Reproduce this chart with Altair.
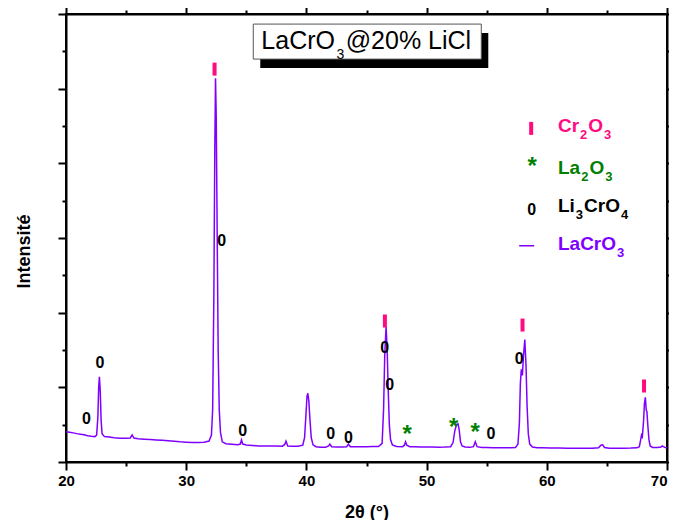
import altair as alt
import pandas as pd

# ---------------- data ----------------
two_theta = [20.0, 20.3, 20.6, 20.9, 21.2, 21.5, 21.8, 22.1, 22.4, 22.55, 22.65, 22.72, 22.78, 22.85, 22.92,
             23.0, 23.2, 23.6, 24.0, 24.5, 25.0, 25.35, 25.5, 25.65, 26.0, 26.5, 27.0, 27.5, 28.0, 28.5,
             29.0, 29.5, 30.0, 30.5, 31.0, 31.5, 31.9, 32.1, 32.2, 32.3, 32.38, 32.44, 32.5, 32.58, 32.66,
             32.75, 32.85, 33.0, 33.3, 33.8, 34.3, 34.5, 34.6, 34.7, 35.0, 35.5, 36.0, 36.5, 37.0, 37.5,
             38.0, 38.2, 38.3, 38.45, 38.8, 39.3, 39.7, 39.85, 39.95, 40.05, 40.12, 40.2, 40.3, 40.4, 40.55,
             40.8, 41.2, 41.6, 41.85, 41.95, 42.1, 42.5, 43.0, 43.35, 43.5, 43.65, 44.0, 44.5, 45.0, 45.5,
             46.0, 46.3, 46.42, 46.52, 46.63, 46.72, 46.8, 46.9, 47.0, 47.15, 47.5, 48.0, 48.15, 48.25, 48.35,
             48.6, 49.0, 49.5, 50.0, 50.5, 51.0, 51.5, 52.0, 52.2, 52.35, 52.5, 52.62, 52.72, 52.82, 52.95,
             53.2, 53.6, 53.9, 54.05, 54.2, 54.6, 55.0, 55.5, 56.0, 56.5, 57.0, 57.4, 57.6, 57.72, 57.8,
             57.88, 57.97, 58.06, 58.17, 58.27, 58.36, 58.46, 58.58, 58.8, 59.2, 59.7, 60.3, 61.0, 61.7, 62.4,
             63.1, 63.8, 64.3, 64.5, 64.65, 64.8, 65.2, 65.8, 66.4, 67.0, 67.5, 67.7, 67.8, 67.88, 67.95,
             68.05, 68.12, 68.2, 68.27, 68.33, 68.4, 68.5, 68.6, 68.8, 69.2, 69.5, 69.6, 69.7, 69.85, 70.0]
intensity = [405, 398, 390, 380, 372, 365, 352, 345, 340, 360, 600, 1000, 1140, 950, 560,
             380, 340, 335, 325, 318, 318, 322, 362, 320, 310, 305, 300, 296, 292, 285,
             278, 270, 265, 260, 262, 265, 280, 360, 700, 2200, 4200, 5140, 4600, 3000, 1500,
             700, 400, 270, 245, 238, 232, 240, 295, 240, 228, 222, 214, 214, 215, 213,
             212, 235, 280, 215, 210, 210, 225, 330, 600, 880, 920, 820, 560, 330, 230,
             205, 196, 198, 215, 240, 205, 200, 200, 205, 240, 205, 203, 205, 205, 206,
             208, 250, 700, 1450, 1810, 1500, 1000, 500, 300, 230, 208, 205, 225, 272, 225,
             205, 203, 202, 200, 200, 199, 200, 205, 260, 420, 505, 510, 420, 270, 215,
             200, 196, 205, 272, 205, 195, 193, 192, 192, 191, 190, 195, 240, 520, 1050,
             1240, 1160, 1420, 1640, 1300, 750, 380, 240, 200, 192, 190, 188, 186, 185, 184,
             184, 183, 190, 225, 230, 195, 185, 183, 184, 186, 190, 205, 290, 361, 340,
             550, 780, 866, 700, 673, 500, 300, 215, 195, 195, 200, 215, 205, 195, 190]

# phase markers (position in 2θ, intensity level of the marker)
li3cro4_x = [21.71, 22.82, 32.96, 34.70, 42.03, 43.49, 46.51, 46.92, 55.35, 57.70]
li3cro4_y = [572, 1321, 2963, 419, 375, 317, 1522, 1031, 371, 1379]
cr2o3_x = [32.36, 46.53, 57.98, 68.09]
cr2o3_y = [5262, 1888, 1834, 1018]
la2o3_x = [48.38, 52.26, 54.05]
la2o3_y = [428, 526, 451]

# legend entries: (text segments, subscripts at odd positions)
legend_segments = [["Cr", "2", "O", "3"], ["La", "2", "O", "3"], ["Li", "3", "CrO", "4"], ["LaCrO", "3"]]
legend_colors = ["#ff0a7f", "#008000", "black", "#8000ff"]
legend_text_x = 60.93
legend_text_y = [4499, 3937, 3428, 2919]
legend_cr_mark = (58.70, 4468)
legend_star_mark = (58.78, 4021)
legend_zero_mark = (58.75, 3374)
legend_line = (57.70, 58.95, 2896)

title_segments = ["LaCrO", "3", "@20% LiCl"]
title_start = (36.25, 5644)
title_box = (35.58, 54.55, 5396, 5865)

x_major = [20, 30, 40, 50, 60, 70]
x_minor = [25, 35, 45, 55, 65]
y_major = [0, 1000, 2000, 3000, 4000, 5000, 6000]
y_minor = [500, 1500, 2500, 3500, 4500, 5500]

# ---------------- styles ----------------
PURPLE = "#8000ff"
PINK = "#ff0a7f"
GREEN = "#008000"
FONT = "Liberation Sans"
W, H = 601, 448
PX_PER_DEG = W / 50.0

# Arial / Liberation Sans advance widths (em)
BOLD_W = {"L": .611, "i": .278, "C": .722, "r": .389, "O": .778, "a": .556}
REG_W = {"L": .556, "a": .556, "C": .722, "r": .333, "O": .778, "@": 1.015, "%": .889, " ": .278,
         "i": .222, "l": .222}


def text_width(s, size, bold):
    table = BOLD_W if bold else REG_W
    return sum(table.get(ch, .556) for ch in s) * size


def layout_segments(segs, x0, y0, main_size, sub_size, bold, color, gap=1.0):
    """Return rows for main-size and subscript-size pieces, alternating main/sub."""
    main_rows, sub_rows = [], []
    off = 0.0
    for k, s in enumerate(segs):
        is_sub = (k % 2 == 1)
        size = sub_size if is_sub else main_size
        row = {"t": x0 + off / PX_PER_DEG, "i": y0, "s": s, "c": color}
        (sub_rows if is_sub else main_rows).append(row)
        off += text_width(s, size, bold) + (gap if (is_sub or (k + 1 < len(segs))) else 0)
    return main_rows, sub_rows


xs = alt.Scale(domain=[20, 70], nice=False, zero=False)
ys = alt.Scale(domain=[0, 6000], nice=False, zero=False)

base_axis = dict(grid=False, tickColor="black", domainColor="black", tickWidth=2, domainWidth=2)

ax_bottom_major = alt.Axis(orient="bottom", values=x_major, tickSize=8, labelPadding=3,
                           labelFont=FONT, labelFontSize=15, labelFontWeight="bold", labelColor="black",
                           labelFlush=False,
                           labelAlign={"condition": {"test": "datum.value == 70", "value": "right"},
                                       "value": "center"},
                           title="2θ (°)", titleFont=FONT, titleFontSize=18, titleFontWeight="bold",
                           titleColor="black", titleY=55, titleBaseline="alphabetic", **base_axis)
ax_bottom_minor = alt.Axis(orient="bottom", values=x_minor, tickSize=4, labels=False,
                           domain=False, title="", **base_axis)
ax_top_major = alt.Axis(orient="top", values=x_major, tickSize=8, labels=False,
                        title="", **base_axis)
ax_top_minor = alt.Axis(orient="top", values=x_minor, tickSize=4, labels=False,
                        domain=False, title="", **base_axis)
ax_left_major = alt.Axis(orient="left", values=y_major, tickSize=8,
                         labels=False, title="Intensité", titleFont=FONT, titleFontSize=18,
                         titleFontWeight="bold", titleColor="black", titleX=-42, titleY=237,
                         titleAngle=270, titleBaseline="middle", **base_axis)
ax_left_minor = alt.Axis(orient="left", values=y_minor, tickSize=4,
                         labels=False, domain=False, title="", **base_axis)
ax_right_major = alt.Axis(orient="right", values=y_major, tickSize=8,
                          labels=False, title="", **base_axis)
ax_right_minor = alt.Axis(orient="right", values=y_minor, tickSize=4,
                          labels=False, domain=False, title="", **base_axis)


def X(field, axis=None):
    if axis is None:
        return alt.X(field, type="quantitative", scale=xs, axis=None)
    return alt.X(field, type="quantitative", scale=xs, axis=axis)


def Y(field, axis=None):
    if axis is None:
        return alt.Y(field, type="quantitative", scale=ys, axis=None)
    return alt.Y(field, type="quantitative", scale=ys, axis=axis)


pattern = pd.DataFrame({"t": two_theta, "i": intensity})
li_df = pd.DataFrame({"t": li3cro4_x, "i": li3cro4_y, "s": ["0"] * len(li3cro4_x)})
cr_df = pd.DataFrame({"t": cr2o3_x + [legend_cr_mark[0]], "i": cr2o3_y + [legend_cr_mark[1]]})
la_df = pd.DataFrame({"t": la2o3_x, "i": la2o3_y, "s": ["*"] * len(la2o3_x)})

# legend / title text pieces
leg_main, leg_sub = [], []
for segs, col, yy in zip(legend_segments, legend_colors, legend_text_y):
    m, s = layout_segments(segs, legend_text_x, yy, 19, 13, True, col)
    leg_main += m
    leg_sub += s
tit_main, tit_sub = layout_segments(title_segments, title_start[0], title_start[1], 25, 14, False, "black",
                                    gap=1.5)

box_df = pd.DataFrame({"x0": [title_box[0]], "x1": [title_box[1]], "y0": [title_box[2]], "y1": [title_box[3]]})

shadow = alt.Chart(box_df).mark_rect(color="black", xOffset=7, x2Offset=7, yOffset=9, y2Offset=9).encode(
    x=X("x0"), x2="x1", y=Y("y0"), y2="y1")
box = alt.Chart(box_df).mark_rect(fill="white", stroke="#555555", strokeWidth=1).encode(
    x=X("x0"), x2="x1", y=Y("y0"), y2="y1")
title_main = alt.Chart(pd.DataFrame(tit_main)).mark_text(
    font=FONT, fontSize=25, color="black", align="left", baseline="middle").encode(
    x=X("t"), y=Y("i"), text="s:N")
title_sub = alt.Chart(pd.DataFrame(tit_sub)).mark_text(
    font=FONT, fontSize=14, color="black", align="left", baseline="middle", dy=14).encode(
    x=X("t"), y=Y("i"), text="s:N")

line = alt.Chart(pattern).mark_line(color=PURPLE, strokeWidth=1.5).encode(
    x=X("t", ax_bottom_major), y=Y("i", ax_left_major), order="t:Q")

zeros = alt.Chart(li_df).mark_text(font=FONT, fontSize=16, fontWeight="bold", color="black",
                                   align="center", baseline="middle").encode(
    x=X("t", ax_bottom_minor), y=Y("i", ax_left_minor), text="s:N")
bars = alt.Chart(cr_df).mark_tick(orient="vertical", size=13, thickness=4, color=PINK, opacity=1).encode(
    x=X("t", ax_top_major), y=Y("i", ax_right_major))
stars = alt.Chart(la_df).mark_text(font=FONT, fontSize=24, fontWeight="bold", color=GREEN,
                                   align="center", baseline="middle", dy=5).encode(
    x=X("t", ax_top_minor), y=Y("i", ax_right_minor), text="s:N")

leg_text = alt.Chart(pd.DataFrame(leg_main)).mark_text(
    font=FONT, fontSize=19, fontWeight="bold", align="left", baseline="middle").encode(
    x=X("t"), y=Y("i"), text="s:N", color=alt.Color("c:N", scale=None))
leg_subs = alt.Chart(pd.DataFrame(leg_sub)).mark_text(
    font=FONT, fontSize=13, fontWeight="bold", align="left", baseline="middle", dy=9).encode(
    x=X("t"), y=Y("i"), text="s:N", color=alt.Color("c:N", scale=None))
leg_star = alt.Chart(pd.DataFrame({"t": [legend_star_mark[0]], "i": [legend_star_mark[1]], "s": ["*"]})).mark_text(
    font=FONT, fontSize=24, fontWeight="bold", color=GREEN, align="center", baseline="middle", dy=5).encode(
    x=X("t"), y=Y("i"), text="s:N")
leg_zero = alt.Chart(pd.DataFrame({"t": [legend_zero_mark[0]], "i": [legend_zero_mark[1]], "s": ["0"]})).mark_text(
    font=FONT, fontSize=16, fontWeight="bold", color="black", align="center", baseline="middle").encode(
    x=X("t"), y=Y("i"), text="s:N")
leg_line = alt.Chart(pd.DataFrame({"t0": [legend_line[0]], "t1": [legend_line[1]], "i": [legend_line[2]]})).mark_rule(
    color=PURPLE, strokeWidth=1.5).encode(x=X("t0"), x2="t1", y=Y("i"))

chart = alt.layer(
    shadow, box, title_main, title_sub, line, zeros, bars, stars,
    leg_text, leg_subs, leg_star, leg_zero, leg_line
).resolve_axis(x="independent", y="independent").properties(
    width=W, height=H,
    autosize=alt.AutoSizeParams(type="none"),
    padding={"left": 58, "top": 6, "right": 2, "bottom": 58},
    background="white",
).configure_view(stroke="black", strokeWidth=2)

chart.save("out.html", embed_options={"renderer": "svg", "actions": False})
